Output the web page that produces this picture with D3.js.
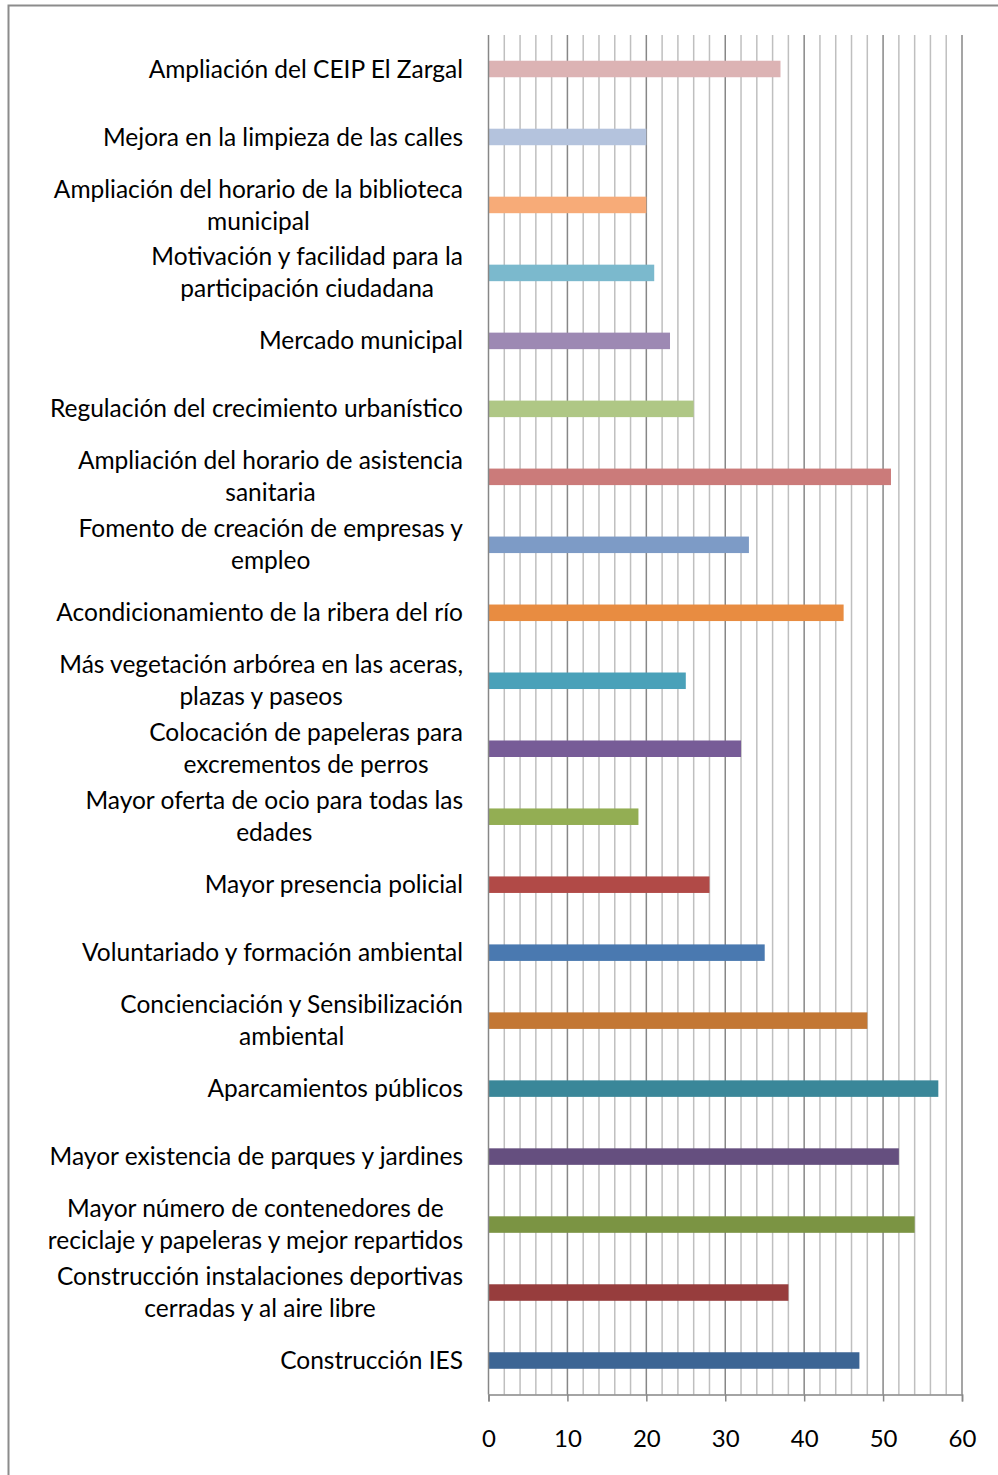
<!DOCTYPE html>
<html>
<head>
<meta charset="utf-8">
<script src="https://cdn.jsdelivr.net/npm/d3@7"></script>
<style>
  body { margin: 0; background: #fff; }
  text { font-family: Lato, "Open Sans", sans-serif; fill: #000; }
</style>
</head>
<body>
<div id="chart"></div>
<script>
// top to bottom, as in the picture
const categories = [
  "Ampliación del CEIP El Zargal",
  "Mejora en la limpieza de las calles",
  "Ampliación del horario de la biblioteca\nmunicipal",
  "Motivación y facilidad para la\nparticipación ciudadana",
  "Mercado municipal",
  "Regulación del crecimiento urbanístico",
  "Ampliación del horario de asistencia\nsanitaria",
  "Fomento de creación de empresas y\nempleo",
  "Acondicionamiento de la ribera del río",
  "Más vegetación arbórea en las aceras,\nplazas y paseos",
  "Colocación de papeleras para\nexcrementos de perros",
  "Mayor oferta de ocio para todas las\nedades",
  "Mayor presencia policial",
  "Voluntariado y formación ambiental",
  "Concienciación y Sensibilización\nambiental",
  "Aparcamientos públicos",
  "Mayor existencia de parques y jardines",
  "Mayor número de contenedores de\nreciclaje y papeleras y mejor repartidos",
  "Construcción instalaciones deportivas\ncerradas y al aire libre",
  "Construcción IES"
];
const values = [37, 20, 20, 21, 23, 26, 51, 33, 45, 25, 32, 19, 28, 35, 48, 57, 52, 54, 38, 47];
const colors = [
  "#dcb3b4", "#b4c3dd", "#f7ab78", "#7bb9cd", "#9d89b3",
  "#afc785", "#cb7b7a", "#7d9bc6", "#e88c41", "#4aa1b9",
  "#775c97", "#93ae53", "#b14a47", "#4a79b0", "#c37734",
  "#3a8799", "#654f7f", "#7b9443", "#973d3d", "#3c6594"
];
const xTicks = [0, 10, 20, 30, 40, 50, 60];

const width = 998, height = 1475;
const margin = {top: 35, left: 488.5, right: 36, bottom: 80.5};

const svg = d3.select("#chart").append("svg")
  .attr("width", width)
  .attr("height", height);

// outer chart border
svg.append("rect")
  .attr("x", 8.5).attr("y", 5.5)
  .attr("width", 1000).attr("height", 1500)
  .attr("fill", "none")
  .attr("stroke", "#8c8c8c")
  .attr("stroke-width", 2);

const x = d3.scaleLinear()
  .domain([0, 60])
  .range([margin.left, width - margin.right]);

const y = d3.scaleBand()
  .domain(categories)
  .range([margin.top, height - margin.bottom])
  .paddingInner(0.757)
  .paddingOuter(0.3785);

const bottom = height - margin.bottom;

// minor gridlines every 2
svg.append("g")
  .selectAll("line")
  .data(d3.range(2, 60, 2).filter(d => d % 10 !== 0))
  .enter().append("line")
  .attr("x1", d => x(d)).attr("x2", d => x(d))
  .attr("y1", margin.top).attr("y2", bottom)
  .attr("stroke", "#bfbfbf")
  .attr("stroke-width", 1.5);

// major gridlines
svg.append("g")
  .selectAll("line")
  .data(xTicks.slice(1))
  .enter().append("line")
  .attr("x1", d => x(d)).attr("x2", d => x(d))
  .attr("y1", margin.top).attr("y2", bottom)
  .attr("stroke", "#878787")
  .attr("stroke-width", 1.5);

// bars
svg.append("g")
  .selectAll("rect")
  .data(values)
  .enter().append("rect")
  .attr("x", x(0))
  .attr("y", (d, i) => y(categories[i]))
  .attr("width", d => x(d) - x(0))
  .attr("height", y.bandwidth())
  .attr("fill", (d, i) => colors[i]);

// value axis
const xAxis = svg.append("g")
  .attr("transform", `translate(0,${bottom})`)
  .call(d3.axisBottom(x).tickValues(xTicks).tickSize(7).tickPadding(28));
xAxis.select(".domain").attr("stroke", "#878787").attr("stroke-width", 1.5);
xAxis.selectAll(".tick line").attr("stroke", "#878787").attr("stroke-width", 1.5);
xAxis.selectAll(".tick text")
  .attr("font-size", 24)
  .attr("fill", "#000")
  .style("font-family", "Lato, 'Open Sans', sans-serif");

// category axis line
svg.append("line")
  .attr("x1", x(0)).attr("x2", x(0))
  .attr("y1", margin.top).attr("y2", bottom)
  .attr("stroke", "#878787")
  .attr("stroke-width", 1.5);

// category labels, lines centred within a right-aligned block
const labelRight = 463;
const lineH = 32;
const labels = svg.append("g");
categories.forEach(cat => {
  const lines = cat.split("\n");
  const cy = y(cat) + y.bandwidth() / 2;
  const g = labels.append("g");
  const texts = lines.map((ln, j) => g.append("text")
    .attr("font-size", 24.5)
    .attr("dy", "0.35em")
    .attr("y", cy + (j - (lines.length - 1) / 2) * lineH)
    .text(ln));
  const widths = texts.map(t => t.node().getComputedTextLength());
  const maxW = d3.max(widths);
  texts.forEach((t, j) => {
    t.attr("x", labelRight - maxW / 2).attr("text-anchor", "middle");
  });
});
</script>
</body>
</html>
